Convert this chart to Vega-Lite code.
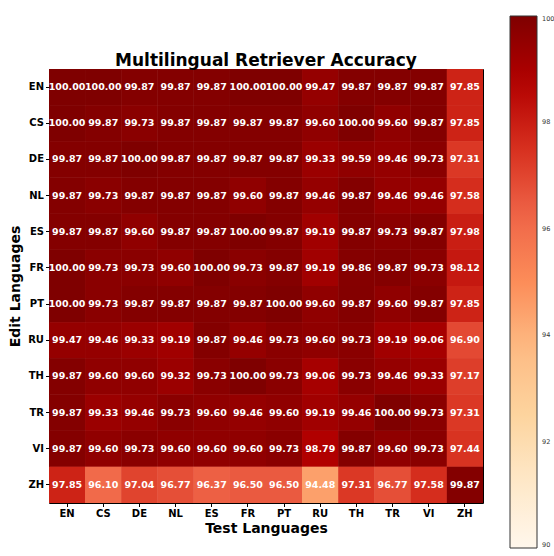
{
  "$schema": "https://vega.github.io/schema/vega-lite/v6.json",
  "autosize": "none",
  "width": 434,
  "height": 434,
  "padding": {"left": 49, "top": 69, "right": 71, "bottom": 53},
  "background": "white",
  "config": {
    "font": "DejaVu Sans",
    "view": {"stroke": "black", "strokeWidth": 1}
  },
  "title": {
    "text": "Multilingual Retriever Accuracy",
    "fontSize": 17,
    "fontWeight": "bold",
    "color": "black",
    "anchor": "middle",
    "offset": -54
  },
  "data": {
    "values": [
      {"edit": "EN", "test": "EN", "acc": 100.00}, {"edit": "EN", "test": "CS", "acc": 100.00}, {"edit": "EN", "test": "DE", "acc": 99.87}, {"edit": "EN", "test": "NL", "acc": 99.87}, {"edit": "EN", "test": "ES", "acc": 99.87}, {"edit": "EN", "test": "FR", "acc": 100.00}, {"edit": "EN", "test": "PT", "acc": 100.00}, {"edit": "EN", "test": "RU", "acc": 99.47}, {"edit": "EN", "test": "TH", "acc": 99.87}, {"edit": "EN", "test": "TR", "acc": 99.87}, {"edit": "EN", "test": "VI", "acc": 99.87}, {"edit": "EN", "test": "ZH", "acc": 97.85},
      {"edit": "CS", "test": "EN", "acc": 100.00}, {"edit": "CS", "test": "CS", "acc": 99.87}, {"edit": "CS", "test": "DE", "acc": 99.73}, {"edit": "CS", "test": "NL", "acc": 99.87}, {"edit": "CS", "test": "ES", "acc": 99.87}, {"edit": "CS", "test": "FR", "acc": 99.87}, {"edit": "CS", "test": "PT", "acc": 99.87}, {"edit": "CS", "test": "RU", "acc": 99.60}, {"edit": "CS", "test": "TH", "acc": 100.00}, {"edit": "CS", "test": "TR", "acc": 99.60}, {"edit": "CS", "test": "VI", "acc": 99.87}, {"edit": "CS", "test": "ZH", "acc": 97.85},
      {"edit": "DE", "test": "EN", "acc": 99.87}, {"edit": "DE", "test": "CS", "acc": 99.87}, {"edit": "DE", "test": "DE", "acc": 100.00}, {"edit": "DE", "test": "NL", "acc": 99.87}, {"edit": "DE", "test": "ES", "acc": 99.87}, {"edit": "DE", "test": "FR", "acc": 99.87}, {"edit": "DE", "test": "PT", "acc": 99.87}, {"edit": "DE", "test": "RU", "acc": 99.33}, {"edit": "DE", "test": "TH", "acc": 99.59}, {"edit": "DE", "test": "TR", "acc": 99.46}, {"edit": "DE", "test": "VI", "acc": 99.73}, {"edit": "DE", "test": "ZH", "acc": 97.31},
      {"edit": "NL", "test": "EN", "acc": 99.87}, {"edit": "NL", "test": "CS", "acc": 99.73}, {"edit": "NL", "test": "DE", "acc": 99.87}, {"edit": "NL", "test": "NL", "acc": 99.87}, {"edit": "NL", "test": "ES", "acc": 99.87}, {"edit": "NL", "test": "FR", "acc": 99.60}, {"edit": "NL", "test": "PT", "acc": 99.87}, {"edit": "NL", "test": "RU", "acc": 99.46}, {"edit": "NL", "test": "TH", "acc": 99.87}, {"edit": "NL", "test": "TR", "acc": 99.46}, {"edit": "NL", "test": "VI", "acc": 99.46}, {"edit": "NL", "test": "ZH", "acc": 97.58},
      {"edit": "ES", "test": "EN", "acc": 99.87}, {"edit": "ES", "test": "CS", "acc": 99.87}, {"edit": "ES", "test": "DE", "acc": 99.60}, {"edit": "ES", "test": "NL", "acc": 99.87}, {"edit": "ES", "test": "ES", "acc": 99.87}, {"edit": "ES", "test": "FR", "acc": 100.00}, {"edit": "ES", "test": "PT", "acc": 99.87}, {"edit": "ES", "test": "RU", "acc": 99.19}, {"edit": "ES", "test": "TH", "acc": 99.87}, {"edit": "ES", "test": "TR", "acc": 99.73}, {"edit": "ES", "test": "VI", "acc": 99.87}, {"edit": "ES", "test": "ZH", "acc": 97.98},
      {"edit": "FR", "test": "EN", "acc": 100.00}, {"edit": "FR", "test": "CS", "acc": 99.73}, {"edit": "FR", "test": "DE", "acc": 99.73}, {"edit": "FR", "test": "NL", "acc": 99.60}, {"edit": "FR", "test": "ES", "acc": 100.00}, {"edit": "FR", "test": "FR", "acc": 99.73}, {"edit": "FR", "test": "PT", "acc": 99.87}, {"edit": "FR", "test": "RU", "acc": 99.19}, {"edit": "FR", "test": "TH", "acc": 99.86}, {"edit": "FR", "test": "TR", "acc": 99.87}, {"edit": "FR", "test": "VI", "acc": 99.73}, {"edit": "FR", "test": "ZH", "acc": 98.12},
      {"edit": "PT", "test": "EN", "acc": 100.00}, {"edit": "PT", "test": "CS", "acc": 99.73}, {"edit": "PT", "test": "DE", "acc": 99.87}, {"edit": "PT", "test": "NL", "acc": 99.87}, {"edit": "PT", "test": "ES", "acc": 99.87}, {"edit": "PT", "test": "FR", "acc": 99.87}, {"edit": "PT", "test": "PT", "acc": 100.00}, {"edit": "PT", "test": "RU", "acc": 99.60}, {"edit": "PT", "test": "TH", "acc": 99.87}, {"edit": "PT", "test": "TR", "acc": 99.60}, {"edit": "PT", "test": "VI", "acc": 99.87}, {"edit": "PT", "test": "ZH", "acc": 97.85},
      {"edit": "RU", "test": "EN", "acc": 99.47}, {"edit": "RU", "test": "CS", "acc": 99.46}, {"edit": "RU", "test": "DE", "acc": 99.33}, {"edit": "RU", "test": "NL", "acc": 99.19}, {"edit": "RU", "test": "ES", "acc": 99.87}, {"edit": "RU", "test": "FR", "acc": 99.46}, {"edit": "RU", "test": "PT", "acc": 99.73}, {"edit": "RU", "test": "RU", "acc": 99.60}, {"edit": "RU", "test": "TH", "acc": 99.73}, {"edit": "RU", "test": "TR", "acc": 99.19}, {"edit": "RU", "test": "VI", "acc": 99.06}, {"edit": "RU", "test": "ZH", "acc": 96.90},
      {"edit": "TH", "test": "EN", "acc": 99.87}, {"edit": "TH", "test": "CS", "acc": 99.60}, {"edit": "TH", "test": "DE", "acc": 99.60}, {"edit": "TH", "test": "NL", "acc": 99.32}, {"edit": "TH", "test": "ES", "acc": 99.73}, {"edit": "TH", "test": "FR", "acc": 100.00}, {"edit": "TH", "test": "PT", "acc": 99.73}, {"edit": "TH", "test": "RU", "acc": 99.06}, {"edit": "TH", "test": "TH", "acc": 99.73}, {"edit": "TH", "test": "TR", "acc": 99.46}, {"edit": "TH", "test": "VI", "acc": 99.33}, {"edit": "TH", "test": "ZH", "acc": 97.17},
      {"edit": "TR", "test": "EN", "acc": 99.87}, {"edit": "TR", "test": "CS", "acc": 99.33}, {"edit": "TR", "test": "DE", "acc": 99.46}, {"edit": "TR", "test": "NL", "acc": 99.73}, {"edit": "TR", "test": "ES", "acc": 99.60}, {"edit": "TR", "test": "FR", "acc": 99.46}, {"edit": "TR", "test": "PT", "acc": 99.60}, {"edit": "TR", "test": "RU", "acc": 99.19}, {"edit": "TR", "test": "TH", "acc": 99.46}, {"edit": "TR", "test": "TR", "acc": 100.00}, {"edit": "TR", "test": "VI", "acc": 99.73}, {"edit": "TR", "test": "ZH", "acc": 97.31},
      {"edit": "VI", "test": "EN", "acc": 99.87}, {"edit": "VI", "test": "CS", "acc": 99.60}, {"edit": "VI", "test": "DE", "acc": 99.73}, {"edit": "VI", "test": "NL", "acc": 99.60}, {"edit": "VI", "test": "ES", "acc": 99.60}, {"edit": "VI", "test": "FR", "acc": 99.60}, {"edit": "VI", "test": "PT", "acc": 99.73}, {"edit": "VI", "test": "RU", "acc": 98.79}, {"edit": "VI", "test": "TH", "acc": 99.87}, {"edit": "VI", "test": "TR", "acc": 99.60}, {"edit": "VI", "test": "VI", "acc": 99.73}, {"edit": "VI", "test": "ZH", "acc": 97.44},
      {"edit": "ZH", "test": "EN", "acc": 97.85}, {"edit": "ZH", "test": "CS", "acc": 96.10}, {"edit": "ZH", "test": "DE", "acc": 97.04}, {"edit": "ZH", "test": "NL", "acc": 96.77}, {"edit": "ZH", "test": "ES", "acc": 96.37}, {"edit": "ZH", "test": "FR", "acc": 96.50}, {"edit": "ZH", "test": "PT", "acc": 96.50}, {"edit": "ZH", "test": "RU", "acc": 94.48}, {"edit": "ZH", "test": "TH", "acc": 97.31}, {"edit": "ZH", "test": "TR", "acc": 96.77}, {"edit": "ZH", "test": "VI", "acc": 97.58}, {"edit": "ZH", "test": "ZH", "acc": 99.87}
    ]
  },
  "encoding": {
    "x": {
      "field": "test", "type": "nominal",
      "sort": ["EN","CS","DE","NL","ES","FR","PT","RU","TH","TR","VI","ZH"],
      "scale": {"paddingInner": 0, "paddingOuter": 0},
      "axis": {
        "title": "Test Languages", "titleFontSize": 14, "titleFontWeight": "bold", "titleColor": "black", "titlePadding": 3,
        "labelAngle": 0, "labelFontSize": 10, "labelFontWeight": "bold", "labelColor": "black", "labelPadding": 2,
        "tickColor": "black", "tickSize": 3.5, "domain": false, "grid": false
      }
    },
    "y": {
      "field": "edit", "type": "nominal",
      "sort": ["EN","CS","DE","NL","ES","FR","PT","RU","TH","TR","VI","ZH"],
      "scale": {"paddingInner": 0, "paddingOuter": 0},
      "axis": {
        "title": "Edit Languages", "titleFontSize": 14, "titleFontWeight": "bold", "titleColor": "black", "titlePadding": 5,
        "labelFontSize": 10, "labelFontWeight": "bold", "labelColor": "black", "labelPadding": 2,
        "tickColor": "black", "tickSize": 3.5, "domain": false, "grid": false
      }
    }
  },
  "layer": [
    {
      "mark": {"type": "rect"},
      "encoding": {
        "color": {
          "field": "acc", "type": "quantitative",
          "scale": {
            "domain": [90, 91.25, 92.5, 93.75, 95, 96.25, 97.5, 98.75, 100],
            "range": ["#fff7ec","#fee8c8","#fdd49e","#fdbb84","#fc8d59","#ef6548","#d7301f","#b30000","#7f0000"],
            "interpolate": "rgb"
          },
          "legend": {
            "type": "gradient",
            "title": null,
            "orient": "none",
            "legendX": 461,
            "legendY": -53,
            "direction": "vertical",
            "gradientLength": 532,
            "gradientThickness": 27,
            "gradientStrokeColor": "#333",
            "gradientStrokeWidth": 1,
            "values": [90, 92, 94, 96, 98, 100],
            "labelFontSize": 6.5,
            "labelColor": "#333333",
            "labelOffset": 5,
            "padding": 0
          }
        }
      }
    },
    {
      "mark": {"type": "rect"},
      "encoding": {
        "color": {"field": "acc", "type": "quantitative"}
      }
    },
    {
      "mark": {"type": "text", "fontSize": 9.5, "fontWeight": "bold", "color": "white"},
      "encoding": {
        "text": {"field": "acc", "type": "quantitative", "format": ".2f"}
      }
    }
  ]
}
